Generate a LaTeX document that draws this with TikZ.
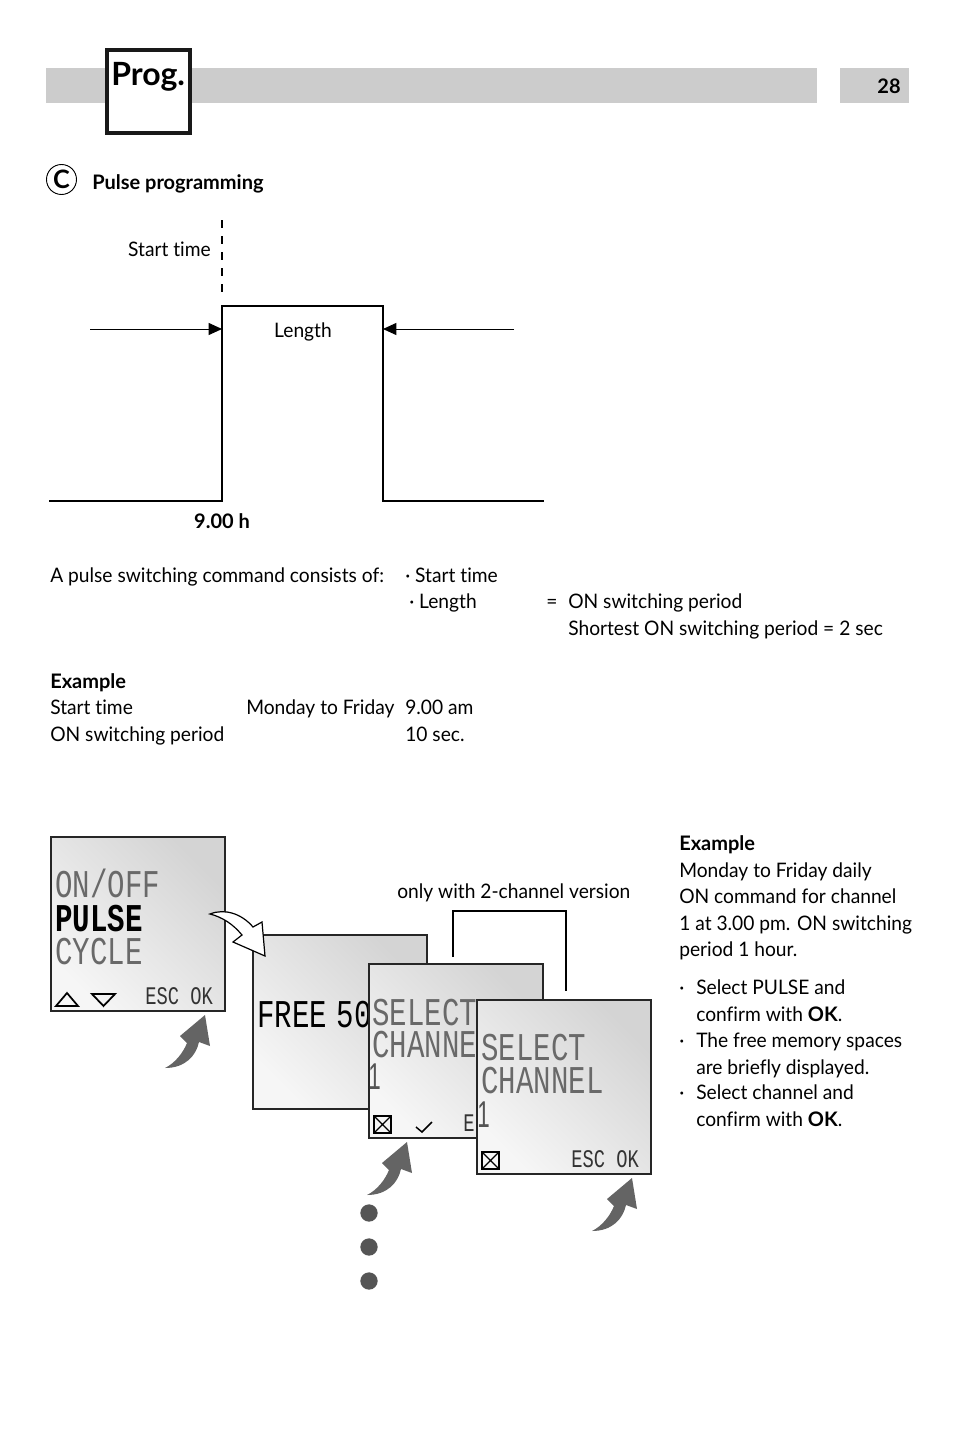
\documentclass[tikz,border=0pt]{standalone}
\usepackage{fontspec}
\setmainfont[FakeStretch=0.96, BoldFeatures={FakeStretch=1.0}, Ligatures=NoCommon]{Lato}
\newfontfamily\lcdfont[FakeStretch=0.74]{Liberation Mono}
\newfontfamily\lcdone[FakeStretch=0.6]{Liberation Sans}
\definecolor{bargray}{RGB}{204, 204, 204}
\definecolor{lcdlight}{RGB}{246, 246, 246}
\definecolor{lcddark}{RGB}{212, 212, 212}
\definecolor{lcdgray}{RGB}{105, 105, 105}
\definecolor{arrowgray}{RGB}{100, 100, 100}
\usetikzlibrary{arrows.meta, positioning}

\begin{document}
\begin{tikzpicture}[
    x=0.75pt, y=-0.75pt,
    lbl/.style={font=\fontsize{15}{18}\selectfont, anchor=base west, inner sep=0pt},
    boldlbl/.style={lbl, font=\fontsize{15}{18}\selectfont\bfseries},
    lcdbox/.style={draw=black!85, line width=1.1pt, minimum size=130.4pt, inner sep=0pt, outer sep=0pt,
                   anchor=north west, top color=lcddark, bottom color=lcdlight, shading angle=-45},
    lcdbig/.style={font=\lcdfont\fontsize{29.5}{30}\selectfont, anchor=base west, inner sep=0pt},
    lcdnum/.style={font=\lcdone\fontsize{28}{30}\selectfont, anchor=base west, inner sep=0pt, text=lcdgray!80!black},
    lcdsmall/.style={font=\lcdfont\fontsize{19}{20}\selectfont, anchor=base west, inner sep=0pt},
    bar/.style={fill=bargray, minimum height=26.25pt, inner sep=0pt, outer sep=0pt, anchor=north west},
    arr/.style={-{Stealth[length=10pt, width=9pt, inset=0pt]}, line width=0.7pt},
    thinline/.style={line width=0.9pt},
    dot/.style={circle, fill=arrowgray!85!black, minimum size=13pt, inner sep=0pt},
    bentarrow/.pic={
      \fill[arrowgray] (165,1068) .. controls (175,1063) and (183,1053) .. (187,1043)
        -- (180,1036) -- (205,1015) -- (210,1046) -- (199,1042)
        .. controls (196,1056) and (185,1068) .. (165,1068) -- cycle;
    }
  ]
    \useasboundingbox (0,0) rectangle (954,1438);

    % header
    \node[bar, minimum width=578.25pt] (headbar) at (46,68) {};
    \node[bar, minimum width=51.75pt] (pagebar) at (840,68) {};
    \node[font=\fontsize{15}{18}\selectfont\bfseries, inner sep=0pt] (pagenum) at (889,86) {28};
    \node[draw=black!90, fill=white, line width=2.6pt, minimum size=62.5pt, inner sep=0pt, outer sep=0pt] (progbox) at (148.5,91.5) {};
    \node[font=\fontsize{24}{30}\selectfont\bfseries, anchor=base west, inner sep=0pt] (prog) at (111,85) {Prog.};

    % title
    \node[draw, circle, line width=0.7pt, minimum size=22.5pt, inner sep=0pt, font=\fontsize{19}{24}\selectfont\bfseries] (circc) at (61.5,179.5) {C};
    \node[boldlbl] (title) at (92,189) {Pulse programming};

    % pulse curve
    \coordinate (dashtop) at (222,220);
    \coordinate (dashend) at (222,294);
    \coordinate (riseTop) at (222,306);
    \coordinate (fallTop) at (383,306);
    \coordinate (arrowL) at (90,329);
    \coordinate (arrowR) at (514,329);
    \coordinate (riseMid) at (222,329);
    \coordinate (fallMid) at (383,329);
    \draw[line width=1.2pt, dash pattern=on 6pt off 6pt] (dashtop) -- (dashend);
    \draw[line width=1.3pt] (49,501) -- (222,501) -- (riseTop) -- (fallTop) -- (383,501) -- (544,501);
    \draw[arr] (arrowL) -- (riseMid);
    \draw[arr] (arrowR) -- (fallMid);
    \node[lbl, anchor=base east] (starttime) at (211,256) {Start time};
    \node[lbl, anchor=base] (length) at (303,337) {Length};
    \node[boldlbl, anchor=base] (ninehours) at (222,528) {9.00 h};

    % description
    \node[lbl] (desc) at (50,582) {A pulse switching command consists of:};
    \node[lbl] (descA) at (405,582) {· Start time};
    \node[lbl] (descB) at (409,608) {· Length};
    \node[lbl] (descC) at (546,608) {=};
    \node[lbl] (descD) at (568,608) {ON switching period};
    \node[lbl] (descE) at (568,635) {Shortest ON switching period = 2 sec};

    % example
    \node[boldlbl] (exa) at (50,688) {Example};
    \node[lbl] (exaA) at (50,714) {Start time};
    \node[lbl] (exaB) at (246,714) {Monday to Friday};
    \node[lbl] (exaC) at (405,714) {9.00 am};
    \node[lbl] (exaD) at (50,741) {ON switching period};
    \node[lbl] (exaE) at (405,741) {10 sec.};

    % first display
    \node[lcdbox] (lcdA) at (51,837) {};
    \node[lcdbig, text=lcdgray] (onoff) at (55,897) {ON/OFF};
    \node[lcdbig, font=\lcdfont\fontsize{29.5}{30}\selectfont\bfseries] (pulse) at (55,931) {PULSE};
    \node[lcdbig, text=lcdgray] (cycle) at (55,964) {CYCLE};
    \node[lcdsmall, text=black!80] (escA) at (145,1004) {ESC OK};
    \draw[line width=1.3pt] (56,1006) -- (67,993) -- (78,1006) -- cycle;
    \draw[line width=1.3pt] (92,994) -- (115,994) -- (103.5,1006) -- cycle;

    % second display
    \node[lcdbox] (lcdB) at (253,935) {};
    \node[lcdbig] (free) at (257,1027) {FREE\kern-6pt\ 50};

    % bracket
    \coordinate (bracketL) at (453,957);
    \coordinate (bracketR) at (566,991);
    \draw[thinline] (bracketL) -- (453,911) -- (566,911) -- (bracketR);
    \node[lbl] (only) at (397,898) {only with 2-channel version};

    % third display
    \node[lcdbox] (lcdC) at (369,964) {};
    \node[lcdbig, text=lcdgray] (selC) at (372,1025) {SELECT};
    \node[lcdbig, text=lcdgray] (chanC) at (372,1057) {CHANNE};
    \node[lcdnum] (oneC) at (368,1089) {1};
    \node[lcdsmall, text=black!80] (escC) at (463,1131) {E};
    \draw[line width=1.3pt] (374,1116) rectangle (391,1133);
    \draw[line width=1pt] (374,1116) -- (391,1133) (391,1116) -- (374,1133);
    \draw[line width=1.1pt] (416,1127) -- (422,1132) -- (432,1122);

    % fourth display
    \node[lcdbox] (lcdD) at (477,1000) {};
    \node[lcdbig, text=lcdgray] (selD) at (481,1060) {SELECT};
    \node[lcdbig, text=lcdgray] (chanD) at (481,1093) {CHANNEL};
    \node[lcdnum] (oneD) at (477,1127) {1};
    \node[lcdsmall, text=black!80] (escD) at (571,1167) {ESC OK};
    \draw[line width=1.3pt] (482,1152) rectangle (499,1169);
    \draw[line width=1pt] (482,1152) -- (499,1169) (499,1152) -- (482,1169);

    % arrows
    \draw[fill=white, line width=0.9pt, line join=miter] (210,914) .. controls (225,908) and (242,914) .. (253,927)
      -- (262,922) -- (265,956) -- (233,942) -- (242,935)
      .. controls (233,924) and (222,917) .. (210,914) -- cycle;
    \pic at (0,0) {bentarrow};
    \pic at (202,127) {bentarrow};
    \pic at (427,163) {bentarrow};

    % dots
    \node[dot] (dotA) at (369,1213) {};
    \node[dot] (dotB) at (369,1247) {};
    \node[dot] (dotC) at (369,1281) {};

    % side text
    \node[boldlbl] (sideA) at (679,850) {Example};
    \node[lbl] (sideB) at (679,877) {Monday to Friday daily};
    \node[lbl] (sideC) at (679,903) {ON command for channel};
    \node[lbl] (sideD) at (679,930) {1 at 3.00 pm. ON switching};
    \node[lbl] (sideE) at (679,956) {period 1 hour.};
    \node[lbl] (bulA) at (679,994) {·};
    \node[lbl] (sideF) at (696,994) {Select PULSE and};
    \node[lbl] (sideG) at (696,1021) {confirm with \textbf{OK}.};
    \node[lbl] (bulB) at (679,1047) {·};
    \node[lbl] (sideH) at (696,1047) {The free memory spaces};
    \node[lbl] (sideI) at (696,1074) {are briefly displayed.};
    \node[lbl] (bulC) at (679,1099) {·};
    \node[lbl] (sideJ) at (696,1099) {Select channel and};
    \node[lbl] (sideK) at (696,1126) {confirm with \textbf{OK}.};
  \end{tikzpicture}
\end{document}
